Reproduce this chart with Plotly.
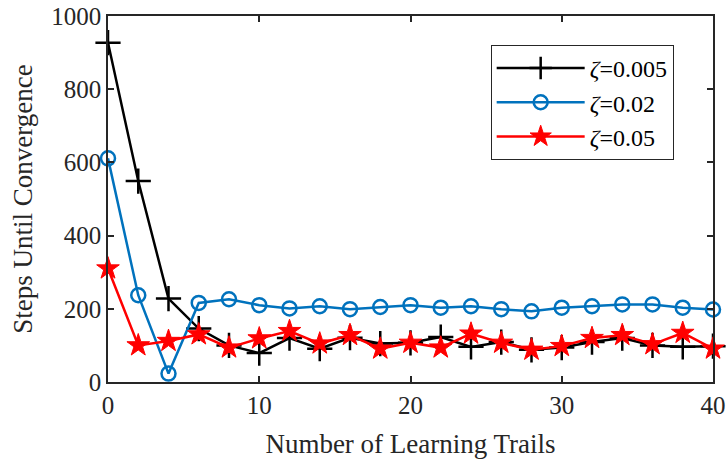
import plotly.graph_objects as go

x_trails = list(range(0, 41, 2))
zeta_005 = [927, 549, 228, 146, 100, 79, 120, 91, 121, 105, 107, 123, 96, 109, 88, 94, 109, 120, 100, 96, 98]
zeta_002 = [611, 237, 23, 216, 226, 210, 201, 207, 199, 205, 210, 203, 207, 199, 193, 203, 207, 212, 212, 203, 198]
zeta_05 = [310, 100, 112, 130, 94, 119, 139, 105, 128, 91, 107, 94, 132, 107, 88, 98, 120, 128, 103, 134, 91]
series_names = ["<i>ζ</i>=0.005", "<i>ζ</i>=0.02", "<i>ζ</i>=0.05"]

font_family = "Liberation Serif, Times New Roman, serif"

fig = go.Figure()
fig.add_trace(go.Scatter(
    x=x_trails, y=zeta_005, name=series_names[0], mode="lines+markers", cliponaxis=False,
    line=dict(color="black", width=2.5),
    marker=dict(symbol="cross-thin", size=18, line=dict(color="black", width=2.5)),
))
fig.add_trace(go.Scatter(
    x=x_trails, y=zeta_002, name=series_names[1], mode="lines+markers", cliponaxis=False,
    line=dict(color="#0072BD", width=2.5),
    marker=dict(symbol="circle-open", size=14, color="#0072BD", line=dict(color="#0072BD", width=2.5)),
))
fig.add_trace(go.Scatter(
    x=x_trails, y=zeta_05, name=series_names[2], mode="lines+markers", cliponaxis=False,
    line=dict(color="#FF0000", width=2.5),
    marker=dict(symbol="star", size=17, color="#FF0000", line=dict(color="#FF0000", width=1)),
))

axis_common = dict(
    showgrid=False, zeroline=False, showline=True, linecolor="#262626", linewidth=1.5,
    mirror="ticks", ticks="inside", ticklen=6, tickwidth=1.5, tickcolor="#262626",
    automargin=False,
    tickfont=dict(family=font_family, size=25, color="#262626"),
)

fig.update_layout(
    width=727, height=462,
    margin=dict(l=108, r=14, t=16, b=80),
    paper_bgcolor="white", plot_bgcolor="white",
    font=dict(family=font_family, size=25, color="#262626"),
    xaxis=dict(range=[0, 40], tickvals=[0, 10, 20, 30, 40],
               title=dict(text="Number of Learning Trails", font=dict(family=font_family, size=27), standoff=16),
               **axis_common),
    yaxis=dict(range=[0, 1000], tickvals=[0, 200, 400, 600, 800, 1000],
               title=dict(text="Steps Until Convergence", font=dict(family=font_family, size=27), standoff=11),
               **axis_common),
    legend=dict(x=0.935, y=0.921, xanchor="right", yanchor="top",
                bgcolor="white", bordercolor="#262626", borderwidth=1,
                font=dict(family=font_family, size=24, color="black"),
                tracegroupgap=0, itemwidth=88),
    showlegend=True,
)

fig.write_html("out.html", config={"displayModeBar": False},
               post_script="document.body.style.margin='0';document.body.style.padding='0';")
